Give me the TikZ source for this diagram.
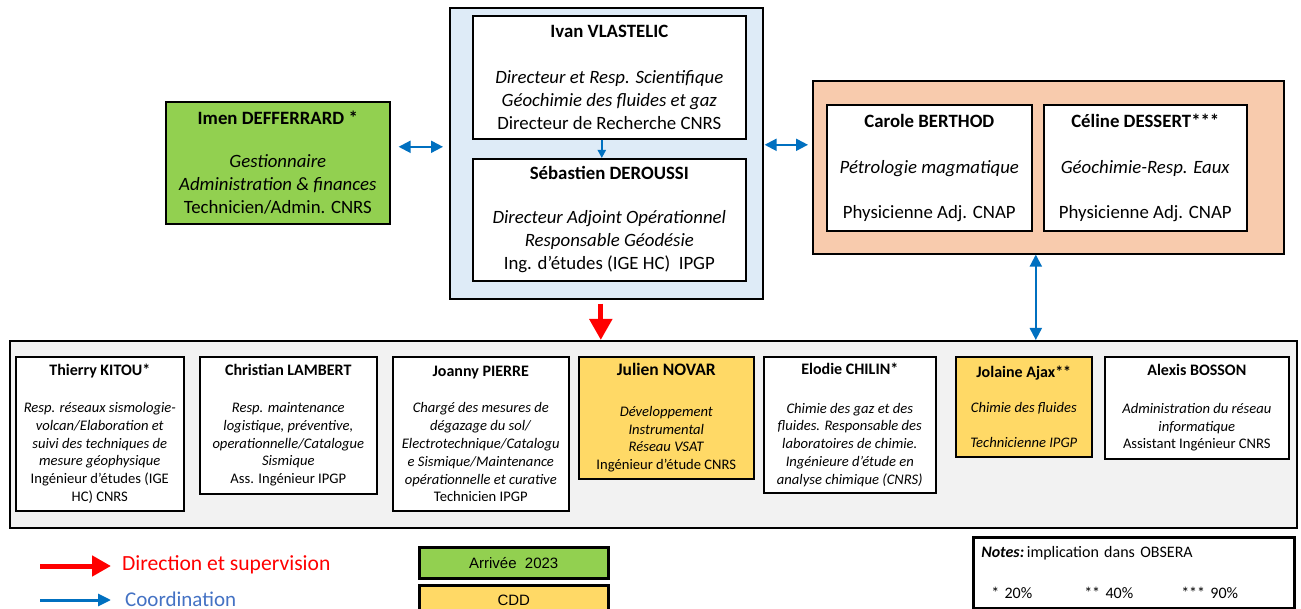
\documentclass[tikz,border=0pt]{standalone}
\usepackage{fontspec}
\setmainfont{Carlito}
\newfontfamily\arialfont{Liberation Sans}
\usetikzlibrary{arrows.meta}

\definecolor{dirblue}{HTML}{DEEBF7}
\definecolor{newgreen}{HTML}{92D050}
\definecolor{labopeach}{HTML}{F8CBAD}
\definecolor{staffgray}{HTML}{F2F2F2}
\definecolor{cddyellow}{HTML}{FFD966}
\definecolor{coordblue}{HTML}{0070C0}
\definecolor{legendblue}{HTML}{4472C4}

\newcommand{\staffname}[1]{{\fontsize{16}{17.8}\selectfont\textbf{#1}}}

\begin{document}
\begin{tikzpicture}[
  x=1pt, y=-1pt,
  box/.style={draw, line width=1.6pt, align=center, inner sep=0pt, anchor=north west},
  headfont/.style={font=\fontsize{18.8}{23}\selectfont},
  stafffont/.style={font=\fontsize{14.6}{17.8}\selectfont},
  coord/.style={draw=coordblue, line width=2pt,
    {Triangle[length=12pt,width=12pt]}-{Triangle[length=12pt,width=12pt]}},
  superv/.style={draw=red, line width=5pt, -{Triangle[length=21pt,width=22pt]}},
]
\fill[white] (0,0) rectangle (1301,609);
\useasboundingbox (0,0) rectangle (1301,609);

% ── direction ──────────────────
\node[box, fill=dirblue, minimum width=313pt, minimum height=291pt] (direction) at (449,7) {};
\node[box, fill=white, headfont, minimum width=273pt, minimum height=123pt] (vlastelic) at (472,15)
  {\textbf{Ivan VLASTELIC}\\[23pt]
   \textit{Directeur et Resp. Scientifique}\\
   \textit{Géochimie des fluides et gaz}\\
   Directeur de Recherche CNRS};
\node[box, fill=white, headfont, minimum width=273pt, minimum height=122pt] (deroussi) at (472,158)
  {\textbf{Sébastien DEROUSSI}\\[21pt]
   \textit{Directeur Adjoint Opérationnel}\\
   \textit{Responsable Géodésie}\\
   Ing. d’études (IGE HC)\ \ IPGP};

% ── administration ────────────
\node[box, fill=newgreen, headfont, minimum width=224pt, minimum height=122pt] (defferrard) at (165,101)
  {\textbf{Imen DEFFERRARD *}\\[20pt]
   \textit{Gestionnaire}\\
   \textit{Administration \& finances}\\
   Technicien/Admin. CNRS};

% ── laboratoire ───────────────
\node[box, fill=labopeach, minimum width=471pt, minimum height=173pt] (labo) at (812,80) {};
\node[box, fill=white, headfont, minimum width=205pt, minimum height=126pt] (berthod) at (826,104)
  {\textbf{Carole BERTHOD}\\[23pt]
   \textit{Pétrologie magmatique}\\[22pt]
   Physicienne Adj. CNAP};
\node[box, fill=white, headfont, minimum width=203pt, minimum height=126pt] (dessert) at (1043,104)
  {\textbf{Céline DESSERT***}\\[23pt]
   \textit{Géochimie-Resp. Eaux}\\[22pt]
   Physicienne Adj. CNAP};

% ── equipe technique ──────────
\node[box, fill=staffgray, minimum width=1287pt, minimum height=187pt] (staff) at (9,340) {};
\node[box, fill=white, stafffont, minimum width=168pt, minimum height=154pt] (kitou) at (15,356)
  {\staffname{Thierry KITOU*}\\[19pt]
   \textit{Resp. réseaux sismologie-}\\
   \textit{volcan/Elaboration et}\\
   \textit{suivi des techniques de}\\
   \textit{mesure géophysique}\\
   Ingénieur d’études (IGE\\
   HC) CNRS};
\node[box, fill=white, stafffont, minimum width=177pt, minimum height=137pt] (lambert) at (199,356)
  {\staffname{Christian LAMBERT}\\[19pt]
   \textit{Resp. maintenance}\\
   \textit{logistique, préventive,}\\
   \textit{operationnelle/Catalogue}\\
   \textit{Sismique}\\
   Ass. Ingénieur IPGP};
\node[box, fill=white, stafffont, minimum width=176pt, minimum height=154pt] (pierre) at (392,356)
  {\staffname{Joanny PIERRE}\\[19pt]
   \textit{Chargé des mesures de}\\
   \textit{dégazage du sol/}\\
   \textit{Electrotechnique/Catalogu}\\
   \textit{e Sismique/Maintenance}\\
   \textit{opérationnelle et curative}\\
   Technicien IPGP};
\node[box, fill=cddyellow, stafffont, minimum width=175pt, minimum height=122pt] (novar) at (578,356)
  {{\fontsize{17.5}{17.8}\selectfont\textbf{Julien NOVAR}}\\[23pt]
   \textit{Développement}\\
   \textit{Instrumental}\\
   \textit{Réseau VSAT}\\
   Ingénieur d’étude CNRS};
\node[box, fill=white, stafffont, minimum width=172pt, minimum height=136pt] (chilin) at (763,356)
  {\staffname{Elodie CHILIN*}\\[21pt]
   \textit{Chimie des gaz et des}\\
   \textit{fluides. Responsable des}\\
   \textit{laboratoires de chimie.}\\
   \textit{Ingénieure d’étude en}\\
   \textit{analyse chimique (CNRS)}};
\node[box, fill=cddyellow, stafffont, minimum width=136pt, minimum height=100pt] (ajax) at (955,356)
  {\staffname{Jolaine Ajax**}\\[18pt]
   \textit{Chimie des fluides}\\[17pt]
   \textit{Technicienne IPGP}};
\node[box, fill=white, stafffont, minimum width=184pt, minimum height=102pt] (bosson) at (1104,356)
  {\staffname{Alexis BOSSON}\\[20pt]
   \textit{Administration du réseau}\\
   \textit{informatique}\\
   Assistant Ingénieur CNRS};

% ── liens ─────────────────────
\draw[coord, shorten <=8pt, shorten >=6pt]
  ([yshift=16pt]defferrard.east) -- ([yshift=16pt]defferrard.east -| direction.west);
\draw[coord, shorten <=1pt, shorten >=4pt]
  ([yshift=8.5pt]direction.east) -- ([yshift=8.5pt]direction.east -| labo.west);
\draw[coord]
  ([xshift=-12.5pt]labo.south) -- ([xshift=-12.5pt]labo.south |- staff.north);
\draw[draw=coordblue, line width=2pt, -{Triangle[length=8pt,width=8pt]}]
  ([xshift=-7.5pt]vlastelic.south) -- ([xshift=-7.5pt]vlastelic.south |- deroussi.north);
\draw[superv, shorten <=4pt]
  ([xshift=-5.5pt]direction.south) -- ([xshift=-5.5pt]direction.south |- staff.north);

% ── legende ───────────────────
\coordinate (superv start) at (40,566);
\node[anchor=west, inner sep=0pt, text=red, font=\fontsize{21.6}{24}\selectfont] (supervlbl) at (122,565)
  {Direction et supervision};
\draw[draw=red, line width=5pt, -{Triangle[length=19pt,width=20pt]}, shorten >=11pt]
  (superv start) -- (superv start -| supervlbl.west);
\coordinate (coord start) at (40,600);
\node[anchor=base west, inner sep=0pt, text=legendblue, font=\fontsize{21}{24}\selectfont] (coordlbl) at (125,606)
  {Coordination};
\draw[draw=coordblue, line width=3pt, -{Triangle[length=13pt,width=12pt]}, shorten >=14pt]
  (coord start) -- (coord start -| coordlbl.west);

\node[box, fill=newgreen, line width=2.5pt, minimum width=189pt, minimum height=31pt,
      font=\arialfont\fontsize{15}{18}\selectfont] (arrivee) at (418,546) {Arrivée\ \ 2023};
\node[box, fill=cddyellow, line width=2.5pt, minimum width=189pt, minimum height=31pt,
      font=\arialfont\fontsize{15}{18}\selectfont] (cdd) at (418,584) {CDD};

\node[box, line width=2.5pt, minimum width=321pt, minimum height=71pt, align=left,
      text width=305pt, font=\fontsize{16}{19}\selectfont] (notes) at (972,536)
  {\textbf{\textit{Notes:}}\,implication dans OBSERA\\[22pt]
   \hspace*{10pt}\makebox[93pt][l]{* 20\%}\makebox[97pt][l]{** 40\%}*** 90\%};

\end{tikzpicture}
\end{document}
